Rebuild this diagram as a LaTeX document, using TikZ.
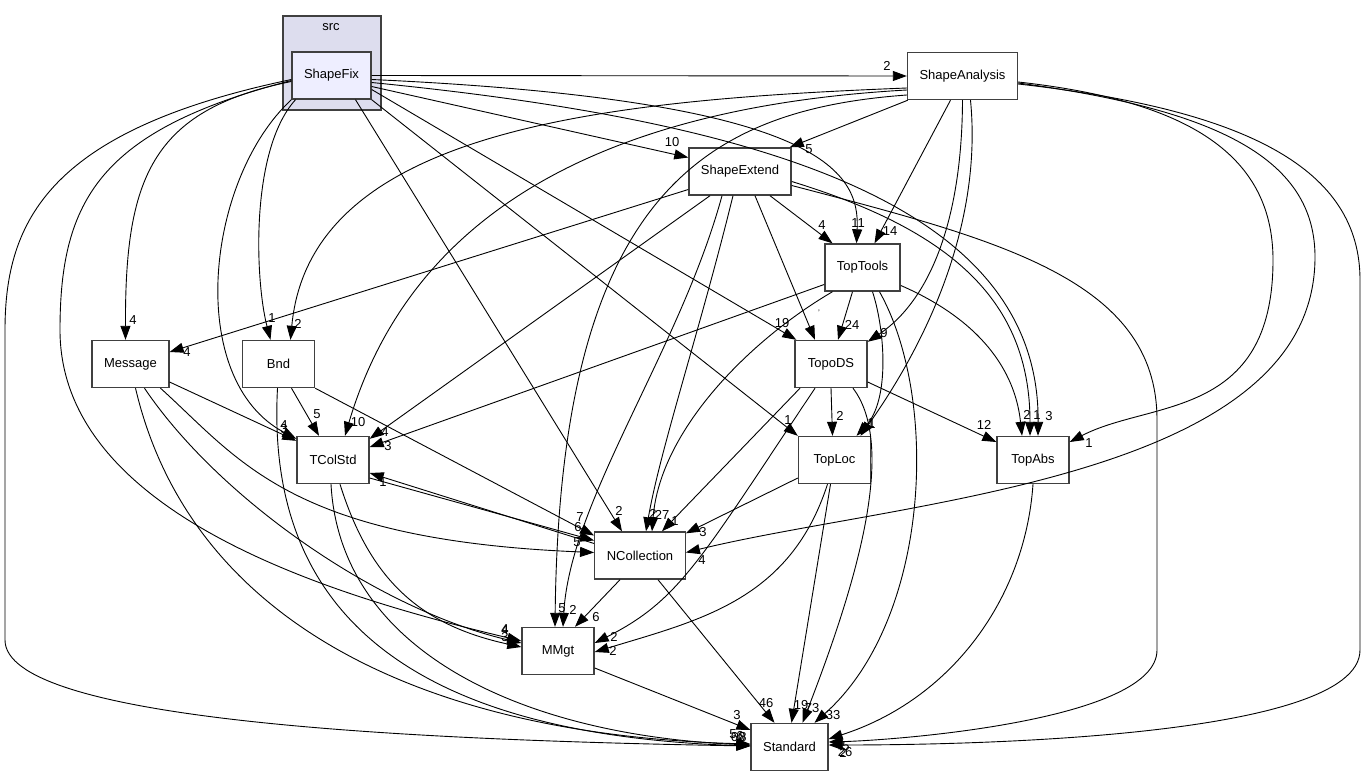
\documentclass[tikz,border=0pt]{standalone}
\usepackage{fontspec}
\setmainfont{Liberation Sans}
\usetikzlibrary{arrows.meta}

\definecolor{clusterfill}{HTML}{DDDDEE}
\definecolor{dirfill}{HTML}{EEEEFF}
\definecolor{dirline}{HTML}{404040}

\tikzset{
 dir/.style={draw=dirline,line width=1.4pt,fill=white,minimum width=72pt,minimum height=47pt,inner xsep=12pt},
 dep/.style={-{Triangle[length=14pt,width=10pt]},line width=.9pt},
 lbl/.style={inner sep=0pt}
}

\begin{document}
\begin{tikzpicture}[x=1pt,y=-1pt,font=\fontsize{13}{15}\selectfont]
\useasboundingbox (0,0) rectangle (1365,777);
\fill[white] (0,0) rectangle (1365,777);
\node[draw=dirline,line width=1.4pt,fill=clusterfill,minimum width=98pt,minimum height=94pt] (src) at (332,63) {};
\node[lbl] (srcname) at (331,27) {src};
\node[dir,fill=dirfill,minimum width=77pt] (sf) at (331.5,75.5) {ShapeFix};
\node[dir] (sa) at (962.5,76) {ShapeAnalysis};
\node[dir] (se) at (740,171.5) {ShapeExtend};
\node[dir] (tt) at (862.5,267.5) {TopTools};
\node[dir] (tds) at (831,364) {TopoDS};
\node[dir] (msg) at (130.5,364) {Message};
\node[dir] (bnd) at (278.5,364) {Bnd};
\node[dir] (tcs) at (333,460) {TColStd};
\node[dir] (tl) at (834.5,460) {TopLoc};
\node[dir] (ta) at (1033,460) {TopAbs};
\node[dir] (nc) at (640,555.5) {NCollection};
\node[dir] (mm) at (558,651) {MMgt};
\node[dir] (std) at (789.5,747) {Standard};

% ShapeFix
\draw[dep] (sf.east) -- (sa.west);
\draw[dep] ([yshift=-11]sf.east) -- ([yshift=14]se.west);
\draw[dep] ([yshift=-4]sf.east) .. controls (820,100) and (860,170) .. ([xshift=-6]tt.north);
\draw[dep] ([yshift=-7]sf.east) .. controls (750,120) and (1040,200) .. ([xshift=5]ta.north);
\draw[dep] ([yshift=-14]sf.east) -- ([xshift=2]tds.north west);
\draw[dep] (sf.south east) -- (tl.north west);
\draw[dep] ([xshift=24]sf.south) -- ([xshift=-18]nc.north);
\draw[dep] ([xshift=-36]sf.south) .. controls (250,150) and (255,280) .. ([xshift=-8]bnd.north);
\draw[dep] (sf.south west) .. controls (205,180) and (185,380) .. ([yshift=-3]tcs.north west);
\draw[dep] ([yshift=-6]sf.west) .. controls (150,110) and (125,180) .. ([xshift=-5]msg.north);
\draw[dep] ([yshift=-5]sf.west) .. controls (100,130) and (60,200) .. (60,330)
 .. controls (60,520) and (350,600) .. ([yshift=10]mm.west);
\draw[dep] ([yshift=-4]sf.west) .. controls (50,130) and (5,220) .. (5,330) -- (5,640)
 .. controls (5,720) and (400,740) .. ([yshift=1]std.west);

% ShapeAnalysis
\draw[dep] ([xshift=1]sa.south west) -- ([xshift=-2]se.north east);
\draw[dep] ([xshift=-12]sa.south) -- ([xshift=12]tt.north);
\draw[dep] (sa.south) .. controls (962,220) and (930,300) .. ([yshift=-2]tds.north east);
\draw[dep] ([xshift=8]sa.south) .. controls (985,250) and (900,380) .. ([xshift=26]tl.north);
\draw[dep] ([yshift=-6]sa.east) .. controls (1180,100) and (1273,150) .. (1273,260)
 .. controls (1273,420) and (1150,400) .. ([yshift=18]ta.east);
\draw[dep] ([yshift=-7]sa.east) .. controls (1220,110) and (1315,160) .. (1315,257)
 .. controls (1315,480) and (900,500) .. ([yshift=3]nc.east);
\draw[dep] ([yshift=-8]sa.east) .. controls (1250,110) and (1360,170) .. (1360,280) -- (1360,650)
 .. controls (1360,740) and (950,745) .. ([yshift=2]std.east);
\draw[dep] ([yshift=-12]sa.west) .. controls (600,100) and (310,130) .. ([xshift=12]bnd.north);
\draw[dep] ([yshift=-14]sa.west) .. controls (550,110) and (400,250) .. ([xshift=12]tcs.north);
\draw[dep] ([yshift=-19]sa.west) .. controls (700,110) and (560,200) .. ([xshift=-3]mm.north);

% ShapeExtend
\draw[dep] ([yshift=-18]se.west) -- ([yshift=12]msg.east);
\draw[dep] ([xshift=-30]se.south) -- ([yshift=-3]tcs.north east);
\draw[dep] ([xshift=-18]se.south) .. controls (680,350) and (570,500) .. ([xshift=5]mm.north);
\draw[dep] ([xshift=-7]se.south) .. controls (700,330) and (660,450) .. ([xshift=6]nc.north);
\draw[dep] ([xshift=30]se.south) -- ([xshift=-30]tt.north);
\draw[dep] ([xshift=15]se.south) -- ([xshift=-16]tds.north);
\draw[dep] ([yshift=-10]se.east) .. controls (950,230) and (1030,300) .. ([xshift=-3]ta.north);
\draw[dep] ([yshift=-14]se.east) .. controls (1000,240) and (1157,280) .. (1157,420) -- (1157,650)
 .. controls (1157,720) and (900,740) .. ([yshift=5]std.east);

% TopTools
\draw[dep] ([xshift=-10]tt.south) -- ([xshift=7]tds.north);
\draw[dep] ([yshift=-17]tt.west) -- ([yshift=13]tcs.east);
\draw[dep] ([xshift=-30]tt.south) .. controls (750,340) and (660,430) .. ([xshift=12]nc.north);
\draw[dep] ([xshift=10]tt.south) .. controls (885,330) and (890,400) .. ([xshift=22]tl.north);
\draw[dep] ([yshift=-18]tt.east) .. controls (980,320) and (1015,370) .. ([xshift=-11]ta.north);
\draw[dep] ([xshift=17]tt.south) .. controls (940,400) and (930,620) .. ([xshift=25]std.north);

% TopoDS
\draw[dep] (tds.south) -- ([xshift=-2]tl.north);
\draw[dep] ([yshift=-18]tds.east) -- ([yshift=18]ta.west);
\draw[dep] ([xshift=-31]tds.south) -- ([xshift=22]nc.north);
\draw[dep] ([xshift=22]tds.south) .. controls (900,450) and (850,600) .. ([xshift=13]std.north);
\draw[dep] ([xshift=-16]tds.south) .. controls (700,560) and (680,600) .. ([yshift=8]mm.east);

% TopLoc, TopAbs
\draw[dep] ([yshift=-18]tl.west) -- ([yshift=-2]nc.north east);
\draw[dep] ([xshift=-4]tl.south) -- ([xshift=2]std.north);
\draw[dep] ([xshift=-7]tl.south) .. controls (790,600) and (700,620) .. ([yshift=-1]mm.east);
\draw[dep] (ta.south) .. controls (1025,600) and (950,700) .. ([yshift=8]std.east);

% Message, Bnd
\draw[dep] ([yshift=-18]msg.east) -- ([yshift=-5]tcs.north west);
\draw[dep] ([xshift=30]msg.south) .. controls (240,460) and (290,540) .. ([yshift=3]nc.west);
\draw[dep] ([xshift=14]msg.south) .. controls (220,500) and (380,610) .. ([yshift=8]mm.west);
\draw[dep] ([xshift=5]msg.south) .. controls (190,620) and (420,735) .. ([yshift=3]std.west);
\draw[dep] ([xshift=13]bnd.south) -- ([xshift=-14]tcs.north);
\draw[dep] (bnd.south east) -- ([yshift=20]nc.west);
\draw[dep] ([xshift=-1]bnd.south) .. controls (265,620) and (420,735) .. ([yshift=1]std.west);

% TColStd, NCollection, MMgt
\draw[dep] ([yshift=-18]tcs.east) -- ([yshift=15]nc.west);
\draw[dep] ([yshift=12]nc.west) -- ([yshift=-13]tcs.east);
\draw[dep] ([xshift=7]tcs.south) .. controls (370,580) and (420,625) .. ([yshift=4]mm.west);
\draw[dep] ([xshift=-2]tcs.south) .. controls (340,650) and (520,735) .. ([yshift=2]std.west);
\draw[dep] ([xshift=-20]nc.south) -- ([xshift=17]mm.north);
\draw[dep] ([xshift=18]nc.south) -- ([xshift=-15]std.north);
\draw[dep] ([yshift=-17]mm.east) -- ([yshift=17]std.west);

% counts
\node[lbl] (l1) at (887,66) {2};
\node[lbl] (l2) at (672,142) {10};
\node[lbl] (l3) at (858,223) {11};
\node[lbl] (l4) at (1049,416) {3};
\node[lbl] (l5) at (782,323) {19};
\node[lbl] (l6) at (788,420) {1};
\node[lbl] (l7) at (619,511) {2};
\node[lbl] (l8) at (272,318) {1};
\node[lbl] (l9) at (284,425) {4};
\node[lbl] (l10) at (133,320) {4};
\node[lbl] (l11) at (505,629) {4};
\node[lbl] (l12) at (738,737) {60};
\node[lbl] (l13) at (809,149) {5};
\node[lbl] (l14) at (890,231) {14};
\node[lbl] (l15) at (884,333) {9};
\node[lbl] (l16) at (871,423) {1};
\node[lbl] (l17) at (1089,443) {1};
\node[lbl] (l18) at (702,560) {4};
\node[lbl] (l19) at (845,752) {26};
\node[lbl] (l20) at (298,324) {2};
\node[lbl] (l21) at (358,422) {10};
\node[lbl] (l22) at (562,608) {5};
\node[lbl] (l23) at (187,352) {4};
\node[lbl] (l24) at (385,432) {4};
\node[lbl] (l25) at (573,610) {2};
\node[lbl] (l26) at (653,514) {2};
\node[lbl] (l27) at (822,225) {4};
\node[lbl,font=\fontsize{8}{8}\selectfont] (l28) at (819,313) {'};
\node[lbl] (l29) at (1037,415) {1};
\node[lbl] (l30) at (846,746) {5};
\node[lbl] (l31) at (852,325) {24};
\node[lbl] (l32) at (388,446) {3};
\node[lbl] (l33) at (662,515) {27};
\node[lbl] (l34) at (872,424) {1};
\node[lbl] (l35) at (1027,415) {2};
\node[lbl] (l36) at (833,715) {33};
\node[lbl] (l37) at (840,416) {2};
\node[lbl] (l38) at (984,425) {12};
\node[lbl] (l39) at (675,521) {1};
\node[lbl] (l40) at (812,708) {73};
\node[lbl] (l41) at (614,637) {2};
\node[lbl] (l42) at (703,532) {3};
\node[lbl] (l43) at (801,705) {19};
\node[lbl] (l44) at (613,651) {2};
\node[lbl] (l45) at (843,753) {2};
\node[lbl] (l46) at (284,429) {3};
\node[lbl] (l47) at (577,542) {5};
\node[lbl] (l48) at (505,637) {3};
\node[lbl] (l49) at (733,734) {5};
\node[lbl] (l50) at (317,414) {5};
\node[lbl] (l51) at (580,517) {7};
\node[lbl] (l52) at (740,736) {6};
\node[lbl] (l53) at (578,527) {6};
\node[lbl] (l54) at (383,482) {1};
\node[lbl] (l55) at (505,630) {4};
\node[lbl] (l56) at (743,737) {8};
\node[lbl] (l57) at (596,617) {6};
\node[lbl] (l58) at (766,703) {46};
\node[lbl] (l59) at (737,715) {3};
\end{tikzpicture}
\end{document}
